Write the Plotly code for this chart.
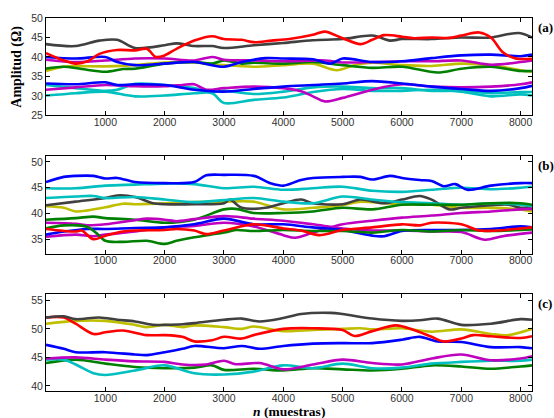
import plotly.graph_objects as go

# ---------------- data (n, amplitude) ----------------
A_GRAY = [(0,43.3),(500,42.8),(900,44.2),(1200,44.4),(1500,42.3),(2000,43.0),(2200,43.5),(2500,42.8),(2800,42.8),(3000,42.3),(3500,43.0),(4000,43.6),(4500,44.3),(5000,44.6),(5500,45.5),(5800,44.2),(6000,44.6),(6500,44.6),(7000,45.0),(7500,45.0),(7800,45.9),(8000,46.1),(8192,45.0)]
A_RED = [(0,41.0),(300,39.1),(500,38.3),(700,38.9),(900,40.8),(1200,41.8),(1500,41.7),(1700,42.1),(1850,40.0),(2000,40.4),(2200,42.1),(2500,44.2),(2800,45.3),(3000,44.6),(3300,44.4),(3500,43.8),(3800,44.2),(4100,44.6),(4500,45.7),(4700,46.5),(5000,44.8),(5300,43.3),(5500,44.4),(5700,45.6),(6000,45.2),(6200,44.8),(6500,45.0),(6800,44.9),(7000,45.5),(7300,46.3),(7500,45.0),(7700,41.2),(7900,39.7),(8192,39.5)]
A_BLUE1 = [(0,40.0),(500,39.6),(1000,40.0),(1200,38.7),(1500,37.9),(2000,38.3),(2500,38.7),(3000,37.5),(3300,38.7),(3700,39.7),(4000,39.6),(4500,39.4),(4800,38.3),(5000,39.6),(5500,38.7),(6000,38.9),(6500,39.7),(7000,40.4),(7500,40.6),(8000,40.2),(8192,40.6)]
A_MAG1 = [(0,39.3),(500,38.7),(1000,39.1),(1500,39.6),(2000,39.6),(2500,39.1),(2800,40.0),(3000,39.3),(3500,39.1),(4000,38.9),(4700,39.1),(5000,38.6),(5500,38.7),(6000,38.9),(6500,38.9),(7000,39.1),(7500,38.0),(8000,38.7),(8192,39.1)]
A_GREEN = [(0,37.0),(300,37.5),(600,36.9),(1000,36.2),(1300,36.9),(1500,37.0),(2000,38.3),(2500,38.7),(2800,38.3),(3000,39.1),(3300,38.3),(3500,38.5),(4000,38.3),(4500,38.7),(5000,37.9),(5500,37.2),(6000,37.5),(6600,36.0),(7000,37.0),(7500,37.5),(8000,36.4),(8192,36.4)]
A_YELLOW = [(0,36.4),(300,37.5),(1000,37.6),(1500,37.9),(2000,38.6),(2500,38.6),(3000,37.9),(3500,37.5),(4000,37.9),(4500,38.3),(4900,36.6),(5200,37.9),(5500,38.5),(6000,37.9),(6500,37.7),(7000,38.3),(7500,37.9),(8000,36.6),(8192,36.2)]
A_BLUE2 = [(0,33.2),(500,33.0),(1000,33.5),(1200,32.8),(1500,33.0),(2000,32.8),(2500,31.6),(3000,31.1),(3500,31.8),(4000,32.4),(4500,32.8),(5000,33.2),(5500,33.8),(6000,33.2),(6500,32.4),(7000,31.8),(7500,31.3),(8000,32.0),(8192,32.6)]
A_MAG2 = [(0,31.6),(500,32.2),(1000,32.8),(1500,32.5),(2000,32.5),(2300,32.8),(2500,33.0),(2700,31.6),(3000,32.0),(3500,32.4),(4000,32.0),(4300,31.2),(4500,29.9),(4700,28.6),(5000,29.5),(5500,31.6),(6000,33.0),(6500,32.4),(7000,32.2),(7500,32.4),(8000,33.0),(8192,33.5)]
A_CYAN1 = [(0,32.8),(500,32.0),(1000,31.3),(1200,31.6),(1500,33.1),(2000,32.8),(2500,32.0),(2800,31.0),(3000,31.3),(3500,30.5),(4000,31.1),(4500,32.2),(5000,32.4),(5500,32.0),(6000,32.0),(6500,31.3),(7000,31.3),(7500,30.7),(8000,31.0),(8192,31.0)]
A_CYAN2 = [(0,30.1),(500,30.7),(1000,31.1),(1500,29.9),(2000,30.1),(2500,30.7),(2800,30.7),(3000,28.2),(3500,29.0),(4000,29.6),(4500,31.0),(5000,31.8),(5500,31.3),(6000,31.3),(6500,31.6),(7000,31.1),(7500,29.9),(8000,30.4),(8192,30.1)]

B_BLUE1 = [(0,46.1),(300,47.1),(500,47.3),(800,47.3),(1000,46.8),(1200,46.9),(1500,46.1),(2000,45.9),(2500,46.1),(2700,47.4),(3000,47.5),(3500,47.3),(3800,45.8),(4000,45.4),(4300,46.5),(4500,46.9),(5000,47.1),(5300,47.1),(5500,46.6),(5800,47.3),(6000,46.9),(6300,46.5),(6500,46.3),(6700,45.3),(6900,45.7),(7100,44.6),(7500,45.4),(8000,45.9),(8192,45.9)]
B_CYAN1 = [(0,44.9),(500,44.9),(1000,45.4),(1500,45.6),(2000,45.8),(2500,45.7),(3000,44.9),(3500,45.2),(4000,44.6),(4500,44.9),(5000,45.2),(5500,44.4),(6000,44.2),(6500,44.6),(7000,45.0),(7500,44.7),(8000,45.0),(8192,45.2)]
B_CYAN2 = [(0,43.0),(500,43.3),(800,43.4),(1000,43.0),(1500,43.2),(2000,42.7),(2500,42.2),(3000,42.6),(3500,43.0),(4000,42.3),(4500,42.0),(5000,43.3),(5500,42.7),(6000,42.2),(6500,42.0),(7000,41.7),(7500,42.0),(8000,41.7),(8192,41.4)]
B_GRAY = [(0,41.6),(500,42.3),(1000,43.0),(1200,43.5),(1500,43.2),(1800,42.0),(2000,41.8),(2500,41.8),(3000,42.0),(3100,42.7),(3300,41.1),(3700,41.1),(4000,42.0),(4300,42.7),(4500,42.0),(5000,41.8),(5300,42.7),(5700,42.0),(6000,42.7),(6300,43.4),(6500,42.7),(6800,40.8),(7000,41.1),(7500,41.6),(7800,41.7),(8000,41.1),(8192,41.4)]
B_YELLOW = [(0,41.4),(300,41.1),(500,40.4),(700,40.6),(1000,41.2),(1300,41.9),(1500,41.8),(2000,42.0),(2500,42.2),(3000,42.3),(3500,42.3),(4000,40.8),(4500,41.1),(5000,41.6),(5300,42.3),(5700,42.0),(6000,41.8),(6500,41.7),(7000,41.1),(7500,41.1),(8000,40.8),(8192,40.4)]
B_GREEN1 = [(0,38.8),(500,39.1),(800,39.4),(1000,39.1),(1500,38.8),(2000,38.2),(2500,38.8),(3000,40.8),(3200,40.9),(3500,40.1),(4000,40.1),(4500,40.4),(5000,41.1),(5500,40.8),(6000,41.7),(6500,41.7),(7000,41.7),(7500,42.0),(8000,42.0),(8192,41.7)]
B_MAG1 = [(0,38.2),(500,38.0),(700,37.7),(1000,37.9),(1500,38.7),(1700,39.0),(2000,38.8),(2200,38.5),(2500,38.9),(3000,39.5),(3500,39.0),(4000,38.6),(4500,37.9),(5000,37.1),(5500,36.7),(6000,36.7),(6500,36.5),(7000,36.4),(7400,34.9),(7700,35.6),(8192,36.3)]
B_MAG2 = [(0,35.5),(500,35.9),(800,35.6),(1000,35.9),(1500,36.5),(2000,37.3),(2500,37.6),(3000,38.2),(3500,37.5),(4000,35.8),(4200,35.3),(4500,36.3),(5000,37.9),(5500,38.6),(6000,39.2),(6500,39.6),(7000,40.1),(7500,40.4),(8000,40.8),(8192,40.9)]
B_GREEN2 = [(0,37.1),(300,37.7),(700,37.4),(850,36.2),(1000,34.7),(1300,34.5),(1700,34.7),(2000,34.1),(2200,34.7),(2500,35.4),(3000,36.3),(3200,36.8),(3500,36.6),(4000,36.8),(4500,36.6),(5000,36.6),(5500,36.3),(6000,36.8),(6500,36.5),(7000,36.8),(7500,36.6),(8000,36.8),(8192,36.9)]
B_RED = [(0,37.0),(500,36.5),(600,36.7),(800,35.0),(1000,35.7),(1300,36.5),(1500,36.7),(2000,36.8),(2200,37.0),(2500,36.7),(2700,36.0),(3000,36.7),(3500,37.9),(4000,37.1),(4300,36.7),(4600,35.8),(5000,36.8),(5500,37.3),(6000,37.9),(6300,37.7),(6500,38.2),(7000,37.9),(7300,36.7),(7600,36.7),(8000,37.1),(8192,37.3)]
B_BLUE2 = [(0,35.9),(300,36.5),(700,37.0),(1000,37.0),(1500,37.2),(2000,37.3),(2500,37.9),(3000,39.0),(3500,37.9),(4000,37.9),(4500,37.3),(5000,36.8),(5500,35.7),(5700,35.6),(6000,36.6),(6500,36.8),(7000,36.8),(7500,37.0),(8000,37.5),(8192,37.3)]

C_GRAY = [(0,52.0),(300,52.2),(500,51.7),(900,52.0),(1200,51.6),(1500,51.3),(1800,50.7),(2000,50.7),(2300,50.8),(2500,51.0),(3000,51.6),(3300,51.8),(3600,51.3),(4000,51.9),(4300,52.6),(4800,52.8),(5000,52.6),(5500,51.8),(6000,51.4),(6300,51.5),(6600,51.8),(7000,50.7),(7500,50.9),(8000,51.7),(8192,51.6)]
C_YELLOW = [(0,50.9),(500,51.4),(1000,51.4),(1500,50.7),(1700,50.3),(2000,50.7),(2300,50.3),(2500,50.6),(3000,50.3),(3300,50.0),(3500,50.4),(4000,49.6),(4500,49.8),(5000,50.0),(5300,50.1),(5500,49.9),(6000,50.1),(6500,49.5),(7000,49.9),(7500,49.1),(7800,48.9),(8192,50.0)]
C_RED = [(0,52.0),(300,52.0),(500,50.9),(800,49.1),(1000,49.4),(1300,49.7),(1700,48.9),(2000,48.9),(2300,48.6),(2500,47.8),(2800,48.0),(3000,48.6),(3300,48.3),(3500,48.9),(4000,50.0),(4500,50.1),(5000,49.8),(5200,48.75),(5500,49.6),(5900,50.6),(6200,49.8),(6500,48.6),(6700,47.8),(7000,48.3),(7200,48.9),(7500,48.7),(8000,48.4),(8192,48.7)]
C_BLUE = [(0,47.2),(300,46.5),(500,45.9),(1000,45.9),(1500,45.5),(1700,45.4),(2000,45.9),(2300,46.5),(2500,47.0),(3000,46.6),(3300,47.0),(3600,46.5),(4000,47.0),(4500,47.4),(5000,47.5),(5500,47.5),(6000,48.1),(6300,48.6),(6600,47.8),(7000,47.7),(7500,46.8),(8000,46.8),(8192,46.6)]
C_MAG = [(0,44.8),(500,45.0),(1000,44.6),(1500,44.3),(2000,44.2),(2300,43.75),(2700,43.75),(3000,44.4),(3200,43.8),(3600,44.0),(4000,42.9),(4500,43.75),(5000,44.6),(5500,44.0),(6000,43.75),(6500,44.8),(7000,45.5),(7500,44.5),(8000,44.8),(8192,45.2)]
C_CYAN = [(0,44.6),(300,44.6),(500,43.75),(800,42.2),(1000,41.9),(1500,42.7),(2000,43.6),(2500,42.2),(3000,42.0),(3500,42.5),(4000,43.6),(4500,43.1),(5000,43.9),(5500,43.1),(6000,43.2),(6500,43.9),(7000,44.2),(7500,44.4),(8000,44.4),(8192,44.6)]
C_GREEN = [(0,44.0),(500,44.6),(1000,43.9),(1500,43.3),(2000,43.1),(2500,43.2),(2800,43.6),(3000,42.8),(3500,43.0),(4000,42.7),(4500,43.1),(5000,42.9),(5500,42.7),(6000,43.0),(6500,43.6),(7000,43.4),(7500,43.0),(8000,43.4),(8192,43.6)]

X_TICKS = [1000, 2000, 3000, 4000, 5000, 6000, 7000, 8000]
Y_TICKS_A = [25, 30, 35, 40, 45, 50]
Y_TICKS_B = [35, 40, 45, 50]
Y_TICKS_C = [40, 45, 50, 55]
PANEL_LABELS = ["(a)", "(b)", "(c)"]
Y_TITLE = "Amplitud (Ω)"
X_TITLE_N = "n"
X_TITLE_REST = " (muestras)"

# ---------------- styles ----------------
BLUE, GREEN, RED = "#0000FF", "#008000", "#FF0000"
CYAN, MAG, YEL, GRAY = "#00BFBF", "#BF00BF", "#BFBF00", "#404040"

panels = [
    ("y", [(A_YELLOW, YEL), (A_GREEN, GREEN), (A_MAG1, MAG), (A_BLUE1, BLUE), (A_GRAY, GRAY),
           (A_RED, RED), (A_CYAN2, CYAN), (A_CYAN1, CYAN), (A_MAG2, MAG), (A_BLUE2, BLUE)]),
    ("y2", [(B_YELLOW, YEL), (B_GRAY, GRAY), (B_CYAN2, CYAN), (B_CYAN1, CYAN), (B_BLUE1, BLUE),
            (B_GREEN1, GREEN), (B_MAG1, MAG), (B_MAG2, MAG), (B_BLUE2, BLUE), (B_GREEN2, GREEN), (B_RED, RED)]),
    ("y3", [(C_GREEN, GREEN), (C_CYAN, CYAN), (C_MAG, MAG), (C_BLUE, BLUE), (C_YELLOW, YEL),
            (C_RED, RED), (C_GRAY, GRAY)]),
]

fig = go.Figure()
for yref, series in panels:
    xref = "x" if yref == "y" else "x" + yref[1:]
    for pts, col in series:
        fig.add_trace(go.Scatter(
            x=[p[0] for p in pts], y=[p[1] for p in pts], mode="lines",
            line=dict(color=col, width=2.6, shape="spline", smoothing=0.9),
            xaxis=xref, yaxis=yref, showlegend=False, hoverinfo="skip"))

tickfont = dict(family="Liberation Sans, Arial, sans-serif", size=10.5, color="#333333")
common_x = dict(range=[0, 8192], tickvals=X_TICKS, ticks="inside", ticklen=4, showline=True,
                mirror="ticks", linecolor="black", linewidth=1, showgrid=False, zeroline=False,
                tickfont=tickfont, tickcolor="black", ticklabelstandoff=-3)
common_y = dict(ticks="inside", ticklen=4, showline=True, mirror="ticks", linecolor="black",
                linewidth=1, showgrid=False, zeroline=False, tickfont=tickfont, tickcolor="black")

BOTTOM = 391.0
H = BOTTOM - 12.0
def dom(top_px, bot_px):
    return [max(0.0, (BOTTOM - bot_px) / H), min(1.0, (BOTTOM - top_px) / H)]

fig.update_layout(
    width=554, height=418, margin=dict(l=46, r=22, t=12, b=418 - int(BOTTOM)),
    paper_bgcolor="white", plot_bgcolor="white",
    xaxis=dict(common_x, anchor="y"),
    xaxis2=dict(common_x, anchor="y2"),
    xaxis3=dict(common_x, anchor="y3"),
    yaxis=dict(common_y, anchor="x", range=[25, 50], tickvals=Y_TICKS_A, domain=dom(12, 111)),
    yaxis2=dict(common_y, anchor="x2", range=[32.2, 51.1], tickvals=Y_TICKS_B, domain=dom(152.5, 251.5)),
    yaxis3=dict(common_y, anchor="x3", range=[39.1, 56.1], tickvals=Y_TICKS_C, domain=dom(292.5, BOTTOM)),
)

label_font = dict(family="Liberation Serif, Times New Roman, serif", size=13, color="black")
tops = [12, 152.5, 292.5]
for lab, top in zip(PANEL_LABELS, tops):
    fig.add_annotation(text="<b>%s</b>" % lab, xref="paper", yref="paper",
                       x=1.0, xshift=4, xanchor="left",
                       y=(BOTTOM - top - 9.5) / H, yanchor="middle",
                       showarrow=False, font=label_font)

fig.add_annotation(text="<b>%s</b>" % Y_TITLE, xref="paper", yref="paper",
                   x=0, xshift=-29, xanchor="center", y=(BOTTOM - 61.5) / H, yanchor="middle",
                   textangle=-90, showarrow=False,
                   font=dict(family="Liberation Serif, Times New Roman, serif", size=14, color="black"))
fig.add_annotation(text="<b><i>%s</i>%s</b>" % (X_TITLE_N, X_TITLE_REST), xref="paper", yref="paper",
                   x=0.5, y=0, yshift=-20, xanchor="center", yanchor="middle", showarrow=False,
                   font=dict(family="Liberation Serif, Times New Roman, serif", size=13.5, color="black"))

fig.write_html("out.html", config={"displayModeBar": False},
               post_script="document.body.style.margin='0';document.body.style.overflow='hidden';")
